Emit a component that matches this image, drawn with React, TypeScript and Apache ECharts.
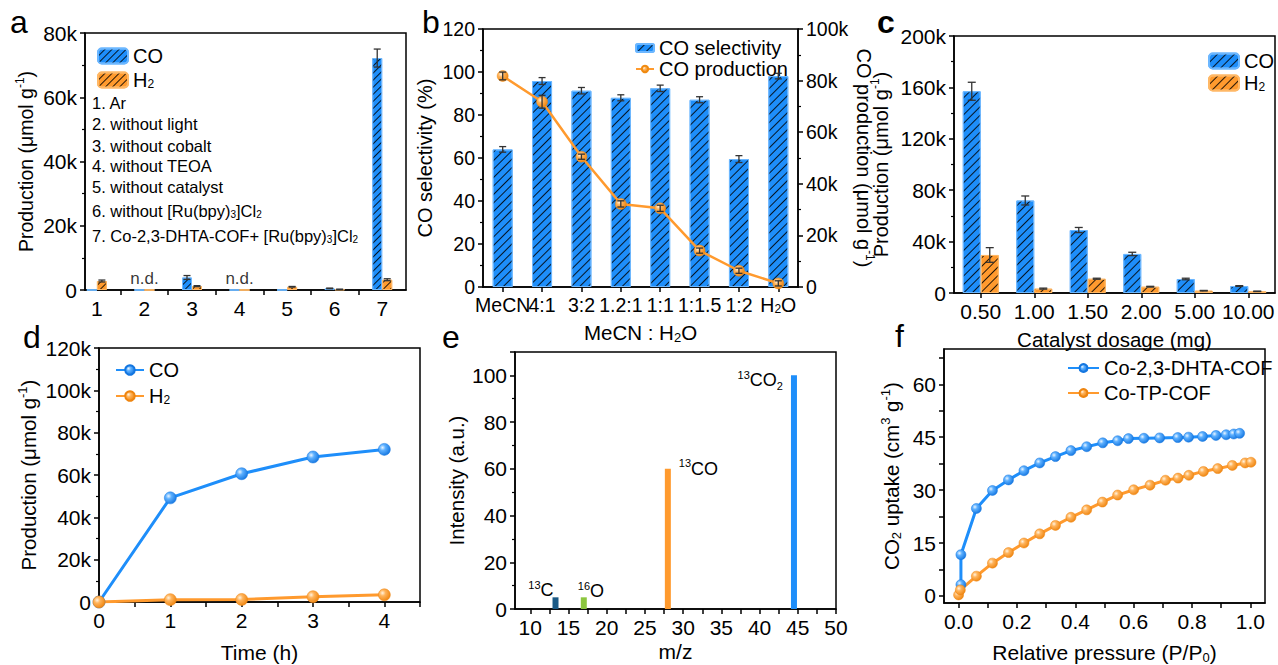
import React, { useEffect, useRef } from 'react';
import * as echarts from 'echarts';

// ---------- colours / fonts ----------
const FONT = '"Liberation Sans", Arial, Helvetica, sans-serif';
const BLUE = '#1E8EFA';
const BLUE_EDGE = '#6CB7FF';
const ORANGE = '#FF9A2E';
const ORANGE_EDGE = '#FFB866';
const DARKBLUE = '#1B5A86';
const GREEN = '#8CC63F';

// ---------- panel a ----------
const aCats = [1, 2, 3, 4, 5, 6, 7];
const aCO = [0, 0, 3900, 0, 0, 500, 72200];
const aCOErr = [0, 0, 600, 0, 0, 100, 2800];
const aH2 = [2800, 0, 1200, 0, 1000, 200, 3200];
const aH2Err = [300, 0, 150, 0, 100, 50, 300];
const aND = [2, 4];
const aNotes = [
  '1. Ar',
  '2. without light',
  '3. without cobalt',
  '4. without TEOA',
  '5. without catalyst',
  '6. without [Ru(bpy){sub|3}]Cl{sub|2}',
  '7. Co-2,3-DHTA-COF+ [Ru(bpy){sub|3}]Cl{sub|2}',
];

// ---------- panel b ----------
const bCats = ['MeCN', '4:1', '3:2', '1.2:1', '1:1', '1:1.5', '1:2', 'H2O'];
const bSel = [64, 95.8, 91.3, 88, 92.4, 87.1, 59.5, 98.1];
const bSelErr = [1.3, 1.6, 1.5, 1.4, 1.5, 1.4, 1.6, 1.3];
const bProd = [81800, 71800, 50500, 32200, 30500, 14100, 6300, 1400];
const bProdErr = [1500, 2500, 1000, 1200, 1200, 1000, 1000, 1000];

// ---------- panel c ----------
const cCats = ['0.50', '1.00', '1.50', '2.00', '5.00', '10.00'];
const cCO = [157000, 72000, 49000, 30400, 10900, 5400];
const cCOErr = [7000, 3500, 2000, 1300, 600, 300];
const cH2 = [29600, 3400, 11100, 4900, 1800, 1300];
const cH2Err = [5700, 400, 400, 300, 200, 150];

// ---------- panel d ----------
const dTime = [0, 1, 2, 3, 4];
const dCO = [0, 49200, 60600, 68500, 72100];
const dH2 = [0, 1100, 1200, 2500, 3400];

// ---------- panel e ----------
const eMZ = [13.3, 17, 28, 44.5];
const eInt = [5, 5, 60, 100];
const eNames = ['{sup|13}C', '{sup|16}O', '{sup|13}CO', '{sup|13}CO{sub|2}'];

// ---------- panel f ----------
const fBlueP = [0.008, 0.008, 0.061, 0.116, 0.171, 0.224, 0.278, 0.332, 0.385, 0.439, 0.494, 0.545, 0.582, 0.635, 0.689, 0.751, 0.788, 0.836, 0.882, 0.917, 0.943, 0.963];
const fBlueV = [3.2, 11.7, 24.8, 29.9, 32.9, 35.5, 37.7, 39.5, 41.2, 42.3, 43.4, 44.0, 44.6, 44.7, 44.8, 44.9, 45.0, 45.2, 45.5, 45.7, 45.9, 46.1];
const fOrP = [0, 0.006, 0.061, 0.116, 0.171, 0.224, 0.278, 0.332, 0.385, 0.439, 0.493, 0.545, 0.6, 0.656, 0.709, 0.752, 0.789, 0.839, 0.888, 0.938, 0.982, 1.002];
const fOrV = [0.3, 1.7, 5.6, 9.3, 12.3, 15.0, 17.6, 20.0, 22.3, 24.4, 26.6, 28.6, 30.1, 31.4, 32.8, 33.4, 34.2, 35.3, 36.1, 37.0, 37.7, 37.9];

// ---------- helpers ----------
function richFor(fs: number) {
  const s = Math.round(fs * 0.62);
  return {
    sub: { fontSize: s, lineHeight: s, verticalAlign: 'bottom', fontFamily: FONT, color: '#000' },
    sup: { fontSize: s, lineHeight: s, verticalAlign: 'top', fontFamily: FONT, color: '#000' },
  };
}

const hatch = (gap: number) => ({
  symbol: 'rect',
  symbolSize: 1,
  color: 'rgba(0,0,0,0.85)',
  dashArrayX: [1, 0],
  dashArrayY: [1, gap],
  rotation: -Math.PI / 4,
});

const blueBall = new echarts.graphic.RadialGradient(0.35, 0.35, 0.7, [
  { offset: 0, color: '#EAF5FF' },
  { offset: 0.35, color: '#5DB0FF' },
  { offset: 1, color: '#1476E0' },
]);
const orangeBall = new echarts.graphic.RadialGradient(0.35, 0.35, 0.7, [
  { offset: 0, color: '#FFF3E0' },
  { offset: 0.35, color: '#FFB45C' },
  { offset: 1, color: '#EE8510' },
]);

const kFmt = (v: number) => (v === 0 ? '0' : `${v / 1000}k`);

const axisLine = { show: true, onZero: false, lineStyle: { color: '#000', width: 1.5 } };
const tick = { show: true, length: 5, lineStyle: { color: '#000', width: 1.5 } };
const minor = { show: true, splitNumber: 2, length: 3, lineStyle: { color: '#000', width: 1.2 } };
const noSplit = { show: false };
const lab = (fs: number, extra: any = {}) => ({ color: '#000', fontSize: fs, fontFamily: FONT, margin: 8, ...extra });
const nameStyle = (fs = 20.5) => ({ color: '#000', fontSize: fs, fontFamily: FONT, lineHeight: 24, rich: richFor(fs) });

function errorSeries(xi: number, yi: number, xs: any[], ys: number[], errs: number[], offset: number, cap: number) {
  return {
    type: 'custom',
    xAxisIndex: xi,
    yAxisIndex: yi,
    z: 10,
    silent: true,
    encode: { x: 0, y: 1 },
    data: xs.map((x, i) => [x, ys[i], errs[i]]).filter((d) => (d[2] as number) > 0),
    renderItem: (_p: any, api: any) => {
      const x = api.value(0);
      const y = api.value(1);
      const e = api.value(2);
      const top = api.coord([x, y + e]);
      const bot = api.coord([x, y - e]);
      const cx = top[0] + offset;
      const style = { stroke: '#333', lineWidth: 1.3 };
      return {
        type: 'group',
        children: [
          { type: 'line', shape: { x1: cx, y1: top[1], x2: cx, y2: bot[1] }, style },
          { type: 'line', shape: { x1: cx - cap, y1: top[1], x2: cx + cap, y2: top[1] }, style },
          { type: 'line', shape: { x1: cx - cap, y1: bot[1], x2: cx + cap, y2: bot[1] }, style },
        ],
      };
    },
  };
}

const legendNames: Record<string, string> = {
  'a-CO': 'CO', 'a-H2': 'H{sub|2}', 'c-CO': 'CO', 'c-H2': 'H{sub|2}',
  'd-CO': 'CO', 'd-H2': 'H{sub|2}', 'b-sel': 'CO selectivity', 'b-prod': 'CO production',
  'f-1': 'Co-2,3-DHTA-COF', 'f-2': 'Co-TP-COF',
};
const legendFmt = (n: string) => legendNames[n] ?? n;
const legendText = { color: '#000', fontSize: 20, fontFamily: FONT, lineHeight: 20, rich: richFor(20) };

function buildOption(): any {
  const barStyleBlue = (gap: number) => ({ color: BLUE, borderColor: BLUE_EDGE, borderWidth: 1, decal: hatch(gap) });
  const barStyleOrange = (gap: number) => ({ color: ORANGE, borderColor: ORANGE_EDGE, borderWidth: 1, decal: hatch(gap) });
  const eColors = [DARKBLUE, GREEN, ORANGE, BLUE];
  const eLabels = [
    { position: [0, 0], align: 'right', verticalAlign: 'middle', offset: [1, -7] },
    { position: [0, 0], align: 'left', verticalAlign: 'middle', offset: [-3, -6] },
    { position: ['100%', 0], align: 'left', verticalAlign: 'middle', offset: [8, 0] },
    { position: [0, 0], align: 'right', verticalAlign: 'middle', offset: [-8, 5] },
  ];

  const letters = [
    ['a', 10, 22, 'normal'], ['b', 422, 22, 'normal'], ['c', 877, 22, 'bold'],
    ['d', 23, 337, 'normal'], ['e', 442, 337, 'normal'], ['f', 895, 336, 'normal'],
  ];
  const noteY = [103, 124, 145.5, 166, 187, 211, 236];

  return {
    animation: false,
    backgroundColor: '#fff',
    textStyle: { fontFamily: FONT },
    grid: [
      { left: 85, top: 33, width: 321, height: 257, show: true, borderColor: '#000', borderWidth: 1.5 },
      { left: 483, top: 29, width: 315, height: 258, show: true, borderColor: '#000', borderWidth: 1.5 },
      { left: 954, top: 36, width: 321, height: 257, show: true, borderColor: '#000', borderWidth: 1.5 },
      { left: 99, top: 348, width: 321, height: 258, show: true, borderColor: '#000', borderWidth: 1.5 },
      { left: 515, top: 352, width: 321, height: 257, show: true, borderColor: '#000', borderWidth: 1.5 },
      { left: 944, top: 349, width: 321, height: 258, show: true, borderColor: '#000', borderWidth: 1.5 },
    ],
    xAxis: [
      {
        gridIndex: 0, type: 'value', min: 0.75, max: 7.5, axisLine, splitLine: noSplit,
        axisTick: { ...tick, customValues: [1.5, 2.5, 3.5, 4.5, 5.5, 6.5] },
        axisLabel: lab(21, { customValues: aCats }),
      },
      {
        gridIndex: 1, type: 'category', data: bCats, axisLine, splitLine: noSplit,
        axisTick: { ...tick, alignWithLabel: true },
        axisLabel: lab(19.5, { interval: 0, rich: richFor(19.5), formatter: (v: string) => (v === 'H2O' ? 'H{sub|2}O' : v) }),
        name: 'MeCN : H{sub|2}O', nameLocation: 'middle', nameGap: 33, nameTextStyle: nameStyle(),
      },
      {
        gridIndex: 2, type: 'category', data: cCats, axisLine, splitLine: noSplit,
        axisTick: { ...tick, alignWithLabel: true },
        axisLabel: lab(21, { interval: 0 }),
        name: 'Catalyst dosage (mg)', nameLocation: 'middle', nameGap: 34, nameTextStyle: nameStyle(),
      },
      {
        gridIndex: 3, type: 'value', min: 0, max: 4.5, interval: 0.5, axisLine, splitLine: noSplit, axisTick: tick,
        axisLabel: lab(21, { formatter: (v: number) => (Number.isInteger(v) ? String(v) : '') }),
        name: 'Time (h)', nameLocation: 'middle', nameGap: 38, nameTextStyle: nameStyle(21),
      },
      {
        gridIndex: 4, type: 'value', min: 8, max: 50, axisLine, splitLine: noSplit,
        axisTick: { ...tick, customValues: [10, 12.5, 15, 17.5, 20, 22.5, 25, 27.5, 30, 32.5, 35, 37.5, 40, 42.5, 45, 47.5, 50] },
        axisLabel: lab(21, { customValues: [10, 15, 20, 25, 30, 35, 40, 45, 50] }),
        name: 'm/z', nameLocation: 'middle', nameGap: 30, nameTextStyle: nameStyle(21),
      },
      {
        gridIndex: 5, type: 'value', min: -0.05, max: 1.05, axisLine, splitLine: noSplit,
        axisTick: { ...tick, customValues: [0, 0.1, 0.2, 0.3, 0.4, 0.5, 0.6, 0.7, 0.8, 0.9, 1.0] },
        axisLabel: lab(21, { customValues: [0, 0.2, 0.4, 0.6, 0.8, 1.0], formatter: (v: number) => v.toFixed(1) }),
        name: 'Relative pressure (P/P{sub|0})', nameLocation: 'middle', nameGap: 37, nameTextStyle: nameStyle(21),
      },
    ],
    yAxis: [
      {
        gridIndex: 0, type: 'value', min: 0, max: 80000, interval: 20000, axisLine, axisTick: tick, minorTick: minor,
        splitLine: noSplit, axisLabel: lab(21, { formatter: kFmt }),
        name: 'Production (μmol g{sup|-1})', nameLocation: 'middle', nameRotate: 90, nameGap: 47, nameTextStyle: nameStyle(19.5),
      },
      {
        gridIndex: 1, type: 'value', min: 0, max: 120, interval: 20, axisLine, axisTick: tick, minorTick: minor,
        splitLine: noSplit, axisLabel: lab(19.5),
        name: 'CO selectivity (%)', nameLocation: 'middle', nameRotate: 90, nameGap: 46, nameTextStyle: nameStyle(20),
      },
      {
        gridIndex: 1, type: 'value', position: 'right', min: 0, max: 100000, interval: 20000, axisLine, axisTick: tick,
        minorTick: minor, splitLine: noSplit, axisLabel: lab(19.5, { formatter: kFmt }),
        name: 'CO production (μmol g{sup|-1})', nameLocation: 'middle', nameRotate: -90, nameGap: 49, nameTextStyle: nameStyle(20),
      },
      {
        gridIndex: 2, type: 'value', min: 0, max: 200000, interval: 40000, axisLine, axisTick: tick, minorTick: minor,
        splitLine: noSplit, axisLabel: lab(21, { formatter: kFmt }),
        name: 'Production (μmol g{sup|-1})', nameLocation: 'middle', nameRotate: 90, nameGap: 61, nameTextStyle: nameStyle(20),
      },
      {
        gridIndex: 3, type: 'value', min: 0, max: 120000, interval: 20000, axisLine, axisTick: tick, minorTick: minor,
        splitLine: noSplit, axisLabel: lab(21, { formatter: kFmt }),
        name: 'Production (μmol g{sup|-1})', nameLocation: 'middle', nameRotate: 90, nameGap: 59, nameTextStyle: nameStyle(20.5),
      },
      {
        gridIndex: 4, type: 'value', min: 0, max: 110, interval: 20, axisLine, axisTick: tick, minorTick: minor,
        splitLine: noSplit, axisLabel: lab(21, { formatter: (v: number) => (v <= 100 ? String(v) : '') }),
        name: 'Intensity (a.u.)', nameLocation: 'middle', nameRotate: 90, nameGap: 46, nameTextStyle: nameStyle(20.5),
      },
      {
        gridIndex: 5, type: 'value', min: -2, max: 70, axisLine, splitLine: noSplit,
        axisTick: { ...tick, customValues: [0, 7.5, 15, 22.5, 30, 37.5, 45, 52.5, 60, 67.5] },
        axisLabel: lab(21, { customValues: [0, 15, 30, 45, 60] }),
        name: 'CO{sub|2} uptake (cm{sup|3} g{sup|-1})', nameLocation: 'middle', nameRotate: 90, nameGap: 41, nameTextStyle: nameStyle(20.5),
      },
    ],
    legend: [
      {
        data: ['a-CO', 'a-H2'], left: 92, top: 41, orient: 'vertical', itemWidth: 30, itemHeight: 15, itemGap: 4,
        formatter: legendFmt, textStyle: legendText, selectedMode: false,
      },
      {
        data: ['b-sel', { name: 'b-prod', lineStyle: { type: 'dashed' } }], left: 630, top: 33, orient: 'vertical',
        itemWidth: 18, itemHeight: 8, itemGap: 1, formatter: legendFmt, textStyle: legendText, selectedMode: false,
      },
      {
        data: ['c-CO', 'c-H2'], left: 1203, top: 46, orient: 'vertical', itemWidth: 30, itemHeight: 15, itemGap: 2,
        formatter: legendFmt, textStyle: legendText, selectedMode: false,
      },
      {
        data: ['d-CO', 'd-H2'], left: 110, top: 355, orient: 'vertical', itemWidth: 28, itemHeight: 12, itemGap: 6,
        formatter: legendFmt, textStyle: legendText, selectedMode: false,
      },
      {
        data: ['f-1', 'f-2'], left: 1062, top: 353, orient: 'vertical', itemWidth: 31, itemHeight: 10, itemGap: 5,
        formatter: legendFmt, textStyle: legendText, selectedMode: false,
      },
    ],
    graphic: [
      ...letters.map(([t, x, y, w]) => ({
        type: 'text', x, y,
        style: { text: t, fontSize: 32, fontWeight: w, fontFamily: FONT, fill: '#000', verticalAlign: 'middle', align: 'left' },
      })),
      ...aNotes.map((t, i) => ({
        type: 'text', x: 92, y: noteY[i],
        style: { text: t, fontSize: 16.5, fontFamily: FONT, fill: '#000', verticalAlign: 'middle', align: 'left', rich: richFor(16.5) },
      })),
    ],
    series: [
      // panel a
      {
        name: 'a-CO', type: 'bar', xAxisIndex: 0, yAxisIndex: 0, barWidth: 10, barGap: '0%',
        data: aCats.map((c, i) => [c, aCO[i]]), itemStyle: barStyleBlue(4),
      },
      {
        name: 'a-H2', type: 'bar', xAxisIndex: 0, yAxisIndex: 0, barWidth: 10, barGap: '0%',
        data: aCats.map((c, i) => [c, aH2[i]]), itemStyle: barStyleOrange(4),
      },
      errorSeries(0, 0, aCats, aCO, aCOErr, -5, 3.5),
      errorSeries(0, 0, aCats, aH2, aH2Err, 5, 3.5),
      {
        type: 'scatter', xAxisIndex: 0, yAxisIndex: 0, symbolSize: 1, itemStyle: { color: 'rgba(0,0,0,0)' },
        data: aND.map((c) => [c, 0]), silent: true,
        label: { show: true, position: 'top', distance: 3, formatter: 'n.d.', fontSize: 17, color: '#000', fontFamily: FONT },
      },
      // panel b
      {
        name: 'b-sel', type: 'bar', xAxisIndex: 1, yAxisIndex: 1, barWidth: 20, data: bSel,
        itemStyle: barStyleBlue(4.5),
      },
      errorSeries(1, 1, bCats, bSel, bSelErr, 0, 3.5),
      {
        name: 'b-prod', type: 'line', xAxisIndex: 1, yAxisIndex: 2, data: bProd, symbol: 'circle', symbolSize: 11,
        lineStyle: { color: ORANGE, width: 2.5 }, itemStyle: { color: orangeBall, borderColor: '#F08A10', borderWidth: 0.5 }, z: 5,
      },
      errorSeries(1, 2, bCats, bProd, bProdErr, 0, 3.5),
      // panel c
      {
        name: 'c-CO', type: 'bar', xAxisIndex: 2, yAxisIndex: 3, barWidth: 18, barGap: '0%', data: cCO,
        itemStyle: barStyleBlue(5),
      },
      {
        name: 'c-H2', type: 'bar', xAxisIndex: 2, yAxisIndex: 3, barWidth: 18, barGap: '0%', data: cH2,
        itemStyle: barStyleOrange(5),
      },
      errorSeries(2, 3, cCats, cCO, cCOErr, -9, 4),
      errorSeries(2, 3, cCats, cH2, cH2Err, 9, 4),
      // panel d
      {
        name: 'd-CO', type: 'line', xAxisIndex: 3, yAxisIndex: 4, data: dTime.map((t, i) => [t, dCO[i]]),
        symbol: 'circle', symbolSize: 12, lineStyle: { color: BLUE, width: 3 },
        itemStyle: { color: blueBall, borderColor: '#1476E0', borderWidth: 0.5 },
      },
      {
        name: 'd-H2', type: 'line', xAxisIndex: 3, yAxisIndex: 4, data: dTime.map((t, i) => [t, dH2[i]]),
        symbol: 'circle', symbolSize: 12, lineStyle: { color: ORANGE, width: 3 },
        itemStyle: { color: orangeBall, borderColor: '#EE8510', borderWidth: 0.5 },
      },
      // panel e
      {
        type: 'bar', xAxisIndex: 4, yAxisIndex: 5, barWidth: 6,
        data: eMZ.map((x, i) => ({
          value: [x, eInt[i]],
          itemStyle: { color: eColors[i] },
          label: {
            show: true, formatter: eNames[i], fontSize: 18, color: '#000', fontFamily: FONT, lineHeight: 22,
            rich: richFor(18), ...eLabels[i],
          },
        })),
      },
      // panel f
      {
        name: 'f-1', type: 'line', xAxisIndex: 5, yAxisIndex: 6, data: fBlueP.map((p, i) => [p, fBlueV[i]]),
        symbol: 'circle', symbolSize: 10, lineStyle: { color: BLUE, width: 3 },
        itemStyle: { color: blueBall, borderColor: '#1476E0', borderWidth: 0.5 },
      },
      {
        name: 'f-2', type: 'line', xAxisIndex: 5, yAxisIndex: 6, data: fOrP.map((p, i) => [p, fOrV[i]]),
        symbol: 'circle', symbolSize: 10, lineStyle: { color: ORANGE, width: 3 },
        itemStyle: { color: orangeBall, borderColor: '#EE8510', borderWidth: 0.5 },
      },
    ],
  };
}

export default function App() {
  const ref = useRef<HTMLDivElement>(null);
  useEffect(() => {
    if (!ref.current) return;
    const chart = echarts.init(ref.current, null, { renderer: 'svg', width: 1278, height: 665 });
    chart.setOption(buildOption());
    return () => chart.dispose();
  }, []);
  return (
    <div
      ref={ref}
      style={{ position: 'fixed', left: 0, top: 0, width: 1278, height: 665, background: '#fff' }}
    />
  );
}
